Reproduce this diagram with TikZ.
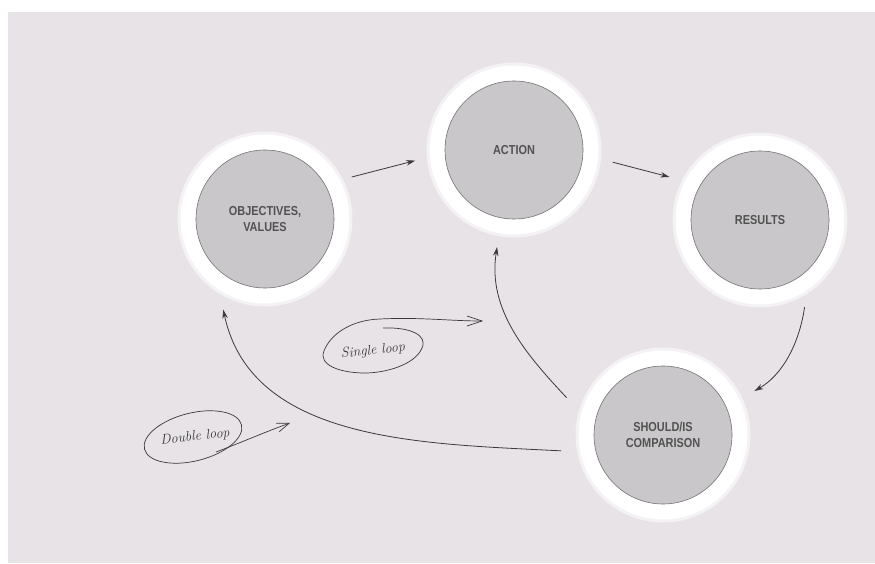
\documentclass[tikz,border=0pt]{standalone}
\usepackage{fontspec}
\newfontfamily\stagefont{Liberation Sans}[FakeStretch=0.84]
\usetikzlibrary{arrows.meta}
\definecolor{panel}{RGB}{231,227,231}
\definecolor{disc}{RGB}{201,199,201}
\definecolor{ink}{RGB}{58,58,58}

\begin{document}
\begin{tikzpicture}[x=1pt, y=1pt,
    ring/.style={circle, fill=white, draw=white!55!panel, line width=3pt, minimum size=172pt, inner sep=0pt},
    stage/.style={circle, fill=disc, draw=black!55, line width=0.6pt, minimum size=138pt, inner sep=0pt, align=center, text=black!68, font=\stagefont\bfseries\fontsize{13}{16}\selectfont},
    arr/.style={->, >={Stealth[length=9pt,width=5.5pt]}, draw=ink, line width=0.8pt},
    hand/.style={draw=ink, line width=0.7pt},
    note/.style={font=\itshape\fontsize{14}{16}\selectfont, text=ink}
]
\useasboundingbox (0,0) rectangle (875,563);
\fill[panel] (8,0) rectangle (875,551);

% the four stages
\node[ring] (obj) at (265,344) {};
\node[stage] (obj-in) at (obj) {OBJECTIVES,\\VALUES};
\node[ring] (act) at (514,413) {};
\node[stage] (act-in) at (act) {ACTION};
\node[ring] (res) at (760,343) {};
\node[stage] (res-in) at (res) {RESULTS};
\node[ring] (cmp) at (663,128) {};
\node[stage] (cmp-in) at (cmp) {SHOULD/IS\\COMPARISON};

% main cycle
\draw[arr, shorten <=9pt, shorten >=12pt] (obj.27) -- (act.185);
\draw[arr, shorten <=12pt, shorten >=13pt] (act.-6) -- (res.153);
\draw[arr, shorten <=13pt, shorten >=14pt] (res.-58) to[out=-98, in=30] (cmp.25);

% feedback loops
\draw[arr, shorten <=18pt, shorten >=11pt] (cmp.164) to[out=133, in=-99] (act.260);
\draw[arr, shorten <=16pt, shorten >=16pt] (cmp.191) to[out=177, in=-78] (obj.239);

% hand notes
\node[note, rotate=6] (sl) at (373,212) {Single loop};
\coordinate (sl-tip) at (483,242);
\draw[hand, -{Straight Barb[length=15pt,width=10pt]}] (383,235)
  .. controls (410,236) and (428,228) .. (422,215)
  .. controls (415,198) and (385,190) .. (365,190)
  .. controls (340,190) and (318,198) .. (324,212)
  .. controls (330,228) and (350,243) .. (380,244)
  .. controls (420,246) and (450,242) .. (sl-tip);

\node[note, rotate=6] (dl) at (195,126) {Double loop};
\coordinate (dl-tip) at (290,140);
\draw[hand, rotate around={14:(193,126)}] (193,126) ellipse (50 and 24);
\draw[hand, -{Straight Barb[length=12pt,width=9pt]}] (216,111)
  .. controls (240,120) and (265,131) .. (dl-tip);
\end{tikzpicture}
\end{document}
